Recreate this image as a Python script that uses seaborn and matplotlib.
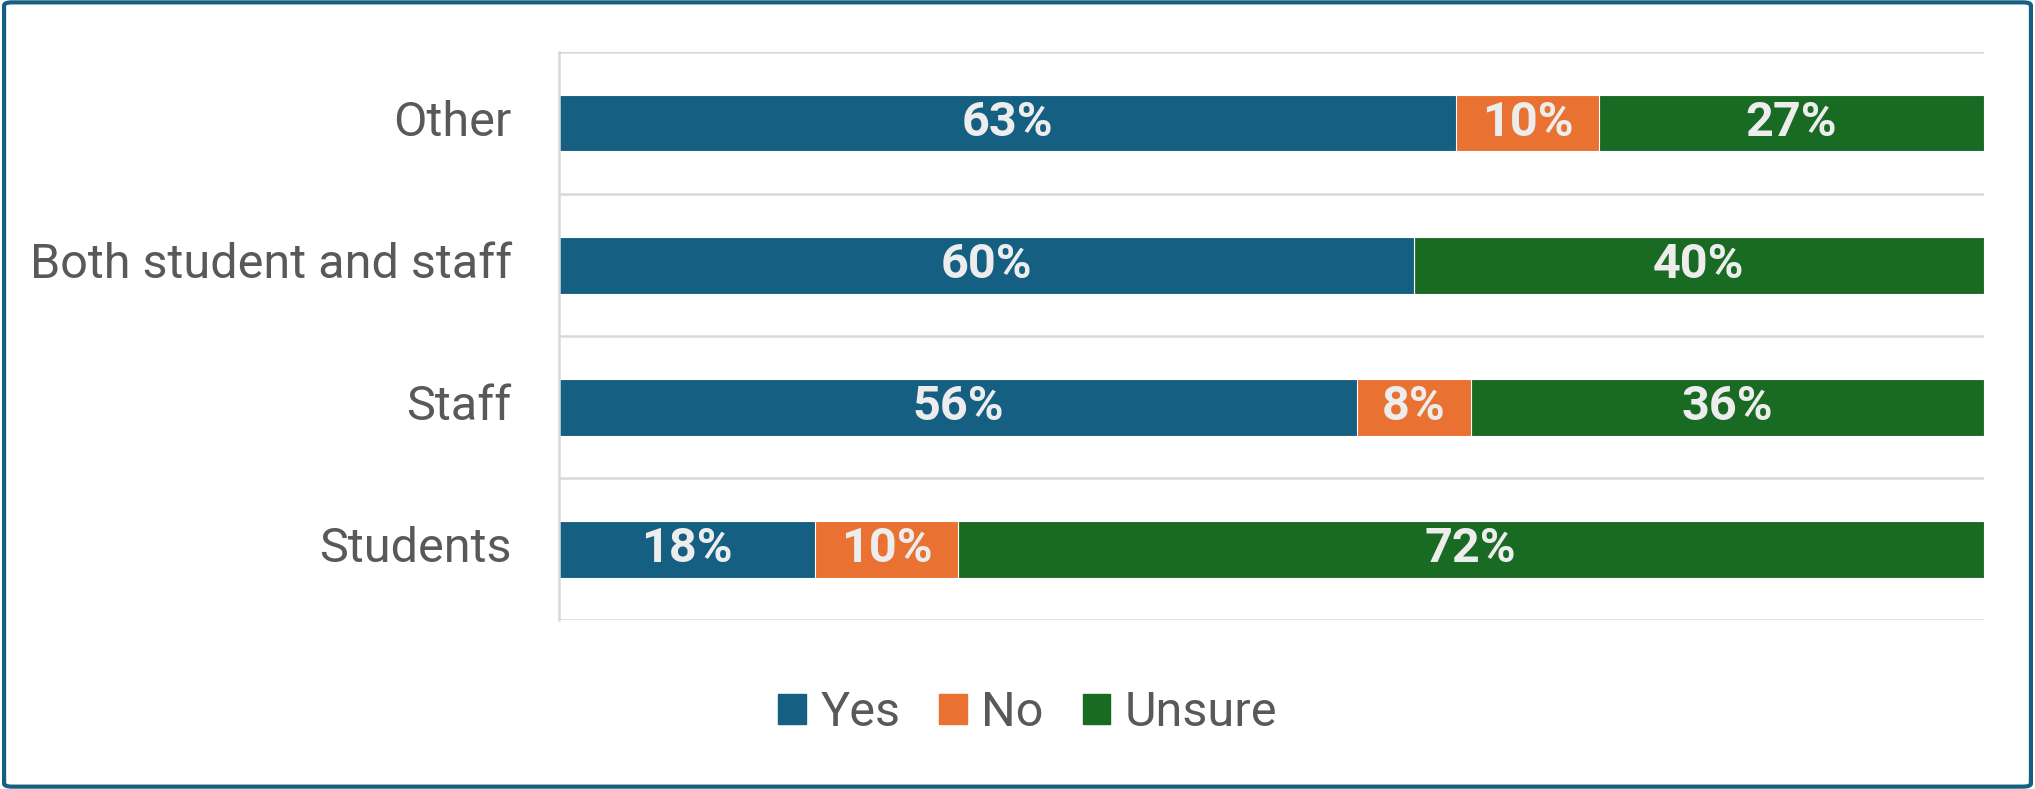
import seaborn as sns
import matplotlib.pyplot as plt
import pandas as pd
from matplotlib.patches import FancyBboxPatch, Patch

sns.set_style('white')
plt.rcParams['font.family'] = ['Roboto', 'DejaVu Sans']

groups = ['Other', 'Both student and staff', 'Staff', 'Students']
yes = [63, 60, 56, 18]
no = [10, 0, 8, 10]
unsure = [27, 40, 36, 72]
series = ['Yes', 'No', 'Unsure']
colors = ['#156082', '#E97132', '#196B24']

df = pd.DataFrame({'group': groups, 'Yes': yes, 'No': no, 'Unsure': unsure})
df['c_yes'] = df['Yes']
df['c_no'] = df['Yes'] + df['No']
df['c_unsure'] = df['c_no'] + df['Unsure']

fig = plt.figure(figsize=(20.35, 7.89), dpi=100)
ax = fig.add_axes([0.2747, 0.214, 0.70, 0.72])

# stacked by overdrawing cumulative totals
for col, c in zip(['c_unsure', 'c_no', 'c_yes'], colors[::-1]):
    sns.barplot(data=df, y='group', x=col, order=groups, color=c, width=0.4,
                edgecolor='white', linewidth=0.8, ax=ax, saturation=1)

for i, row in df.iterrows():
    start = 0
    for s in series:
        v = row[s]
        if v > 0:
            ax.text(start + v / 2, i, f'{v}%', ha='center', va='center',
                    color='#EDEDED', fontsize=35, fontweight='bold')
        start += v

ax.set_xlim(0, 100)
ax.set_ylim(3.5, -0.5)
ax.set_xlabel('')
ax.set_ylabel('')
ax.set_xticks([])
for yb in [-0.5, 0.5, 1.5, 2.5, 3.5]:
    ax.axhline(yb, color='#D9D9D9', lw=1.8, zorder=0)
for s in ['top', 'right', 'bottom']:
    ax.spines[s].set_visible(False)
ax.spines['left'].set_color('#D9D9D9')
ax.spines['left'].set_linewidth(1.8)
ax.tick_params(axis='y', length=0, pad=34, labelsize=35, labelcolor='#595959')
for lab in ax.get_yticklabels():
    lab.set_verticalalignment('center')

handles = [Patch(color=c, label=s) for s, c in zip(series, colors)]
fig.legend(handles=handles, loc='center', bbox_to_anchor=(0.505, 0.096), ncol=3,
           frameon=False, fontsize=35, labelcolor='#595959', handlelength=0.57,
           handleheight=0.57, handletextpad=0.3, columnspacing=0.8)

border = FancyBboxPatch((0.002, 0.003), 0.996, 0.994, boxstyle='round,pad=0,rounding_size=0.004',
                        transform=fig.transFigure, fill=False, edgecolor='#156082', lw=3)
fig.patches.append(border)

fig.savefig('out.png', dpi=100)
